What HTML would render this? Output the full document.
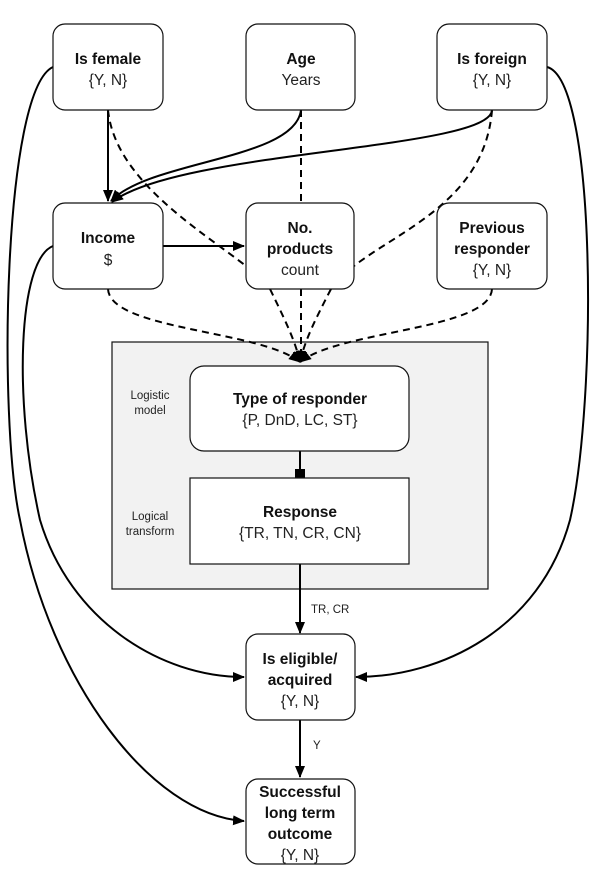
<!DOCTYPE html>
<html><head><meta charset="utf-8"><style>
html,body{margin:0;padding:0;background:#fff;}
svg{display:block;}
text{font-family:"Liberation Sans",sans-serif;fill:#111;}
.b{font-weight:bold;font-size:15.5px;}
.n{font-size:15.5px;fill:#222;}
.s{font-size:11.5px;fill:#222;}
</style></head><body>
<svg width="601" height="871" viewBox="0 0 601 871" xmlns="http://www.w3.org/2000/svg">
<defs>
<marker id="a" markerWidth="12" markerHeight="10" refX="11" refY="5" orient="auto" markerUnits="userSpaceOnUse"><path d="M0,0 L12,5 L0,10 Z" fill="#000"/></marker>
<marker id="sq" markerWidth="10" markerHeight="10" refX="9" refY="5" orient="auto" markerUnits="userSpaceOnUse"><rect x="0" y="0" width="9" height="10" fill="#000"/></marker>
</defs>
<rect x="112" y="342" width="376" height="247" fill="#f2f2f2" stroke="#111" stroke-width="1.2"/>
<g fill="none" stroke="#000" stroke-width="2">
<path d="M53,67 C3,90 -2,420 20,520 C50,680 150,815 244,821" marker-end="url(#a)"/>
<path d="M53,246 C18,260 13,400 40,520 C70,620 160,677 244,677" marker-end="url(#a)"/>
<path d="M547,67 C597,80 597,400 570,520 C540,630 440,677 356,677" marker-end="url(#a)"/>
<path d="M108,110 L108,201" marker-end="url(#a)"/>
<path d="M301,110 C295,160 150,160 111,201" marker-end="url(#a)"/>
<path d="M492,110 C490,150 180,150 112,202" marker-end="url(#a)"/>
<path d="M163,246 L244,246" marker-end="url(#a)"/>
<g stroke-dasharray="7,5">
<path d="M108,110 C115,180 200,230 246,266"/>
<path d="M270,289 C285,320 295,340 300,362" marker-end="url(#a)"/>
<path d="M301,110 L301,203"/>
<path d="M301,289 L301,362" marker-end="url(#a)"/>
<path d="M492,110 C485,200 400,230 354,266"/>
<path d="M331,289 C315,320 305,340 300,362" marker-end="url(#a)"/>
<path d="M108,289 C110,330 260,330 300,362" marker-end="url(#a)"/>
<path d="M492,289 C490,330 340,330 300,362" marker-end="url(#a)"/>
</g>
<path d="M300,451 L300,478" marker-end="url(#sq)"/>
<path d="M300,564 L300,633" marker-end="url(#a)"/>
<path d="M300,720 L300,777" marker-end="url(#a)"/>
</g>
<g fill="#fff" stroke="#111" stroke-width="1.2">
<rect x="53" y="24" width="110" height="86" rx="12"/>
<rect x="246" y="24" width="109" height="86" rx="12"/>
<rect x="437" y="24" width="110" height="86" rx="12"/>
<rect x="53" y="203" width="110" height="86" rx="12"/>
<rect x="246" y="203" width="108" height="86" rx="12"/>
<rect x="437" y="203" width="110" height="86" rx="12"/>
<rect x="190" y="366" width="219" height="85" rx="14"/>
<rect x="190" y="478" width="219" height="86"/>
<rect x="246" y="634" width="109" height="86" rx="12"/>
<rect x="246" y="779" width="109" height="85" rx="12"/>
</g>
<g text-anchor="middle">
<text class="b" x="108" y="64">Is female</text><text class="n" x="108" y="85">{Y, N}</text>
<text class="b" x="301" y="64">Age</text><text class="n" x="301" y="85">Years</text>
<text class="b" x="492" y="64">Is foreign</text><text class="n" x="492" y="85">{Y, N}</text>
<text class="b" x="108" y="243">Income</text><text class="n" x="108" y="265">$</text>
<text class="b" x="300" y="233">No.</text><text class="b" x="300" y="254">products</text><text class="n" x="300" y="275">count</text>
<text class="b" x="492" y="233">Previous</text><text class="b" x="492" y="254">responder</text><text class="n" x="492" y="275">{Y, N}</text>
<text class="b" x="300" y="404">Type of responder</text><text class="n" x="300" y="425">{P, DnD, LC, ST}</text>
<text class="b" x="300" y="517">Response</text><text class="n" x="300" y="538">{TR, TN, CR, CN}</text>
<text class="b" x="300" y="664">Is eligible/</text><text class="b" x="300" y="685">acquired</text><text class="n" x="300" y="706">{Y, N}</text>
<text class="b" x="300" y="797">Successful</text><text class="b" x="300" y="818">long term</text><text class="b" x="300" y="839">outcome</text><text class="n" x="300" y="860">{Y, N}</text>
<text class="s" x="150" y="399">Logistic</text><text class="s" x="150" y="414">model</text>
<text class="s" x="150" y="520">Logical</text><text class="s" x="150" y="535">transform</text>
</g>
<text class="s" x="311" y="613">TR, CR</text>
<text class="s" x="313" y="749">Y</text>
</svg>
</body></html>
